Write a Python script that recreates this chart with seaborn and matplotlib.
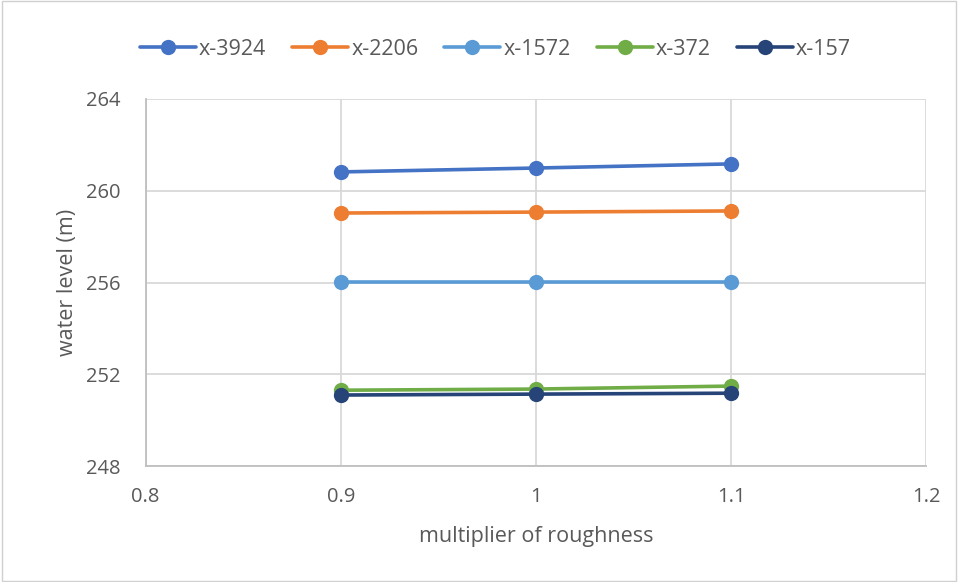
import numpy as np
import pandas as pd
import matplotlib
matplotlib.use("Agg")
import matplotlib.pyplot as plt
import seaborn as sns
from matplotlib.ticker import MultipleLocator

multipliers = [0.9, 1.0, 1.1]
series_names = ["x-3924", "x-2206", "x-1572", "x-372", "x-157"]
x3924 = [260.82, 260.99, 261.17]
x2206 = [259.03, 259.07, 259.12]
x1572 = [256.02, 256.02, 256.02]
x372 = [251.31, 251.36, 251.49]
x157 = [251.10, 251.14, 251.18]
colors = ["#4472C4", "#ED7D31", "#5B9BD5", "#70AD47", "#264478"]

values = [x3924, x2206, x1572, x372, x157]
df = pd.DataFrame({
    "multiplier": multipliers * len(series_names),
    "level": [v for s in values for v in s],
    "series": [n for n in series_names for _ in multipliers],
})

sns.set_style("white")
plt.rcParams["font.family"] = ["Open Sans", "DejaVu Sans"]

fig = plt.figure(figsize=(9.58, 5.82), dpi=100)
ax = fig.add_axes([0.152, 0.199, 0.815, 0.631])

sns.lineplot(data=df, x="multiplier", y="level", hue="series",
             hue_order=series_names, palette=colors, marker="o",
             markersize=11, markeredgewidth=0, linewidth=2.6, ax=ax,
             legend=True, zorder=3)

ax.set_xlim(0.8, 1.2)
ax.set_ylim(248, 264)
ax.xaxis.set_major_locator(MultipleLocator(0.1))
ax.xaxis.set_minor_locator(MultipleLocator(0.05))
ax.yaxis.set_major_locator(MultipleLocator(4))
ax.yaxis.set_minor_locator(MultipleLocator(1))
ax.set_xticks([0.8, 0.9, 1.0, 1.1, 1.2])
ax.set_xticklabels(["0.8", "0.9", "1", "1.1", "1.2"])

grid_c = "#d9d9d9"
axis_c = "#bfbfbf"
ax.grid(True, which="major", color=grid_c, linewidth=1.3, zorder=0)
ax.set_axisbelow(True)
for side in ["top", "right"]:
    ax.spines[side].set_visible(False)
for side in ["left", "bottom"]:
    ax.spines[side].set_color(axis_c)
    ax.spines[side].set_linewidth(1.3)

ax.tick_params(axis="both", which="both", color=axis_c, width=1.3,
               labelcolor="#595959", labelsize=14.5)
ax.tick_params(axis="both", which="major", length=6, direction="out")
ax.tick_params(axis="both", which="minor", length=5, direction="out")
ax.tick_params(axis="x", pad=9)
ax.tick_params(axis="y", pad=12)

ax.set_xlabel("multiplier of roughness", fontsize=15.5, color="#595959", labelpad=14)
ax.set_ylabel("water level (m)", fontsize=15.5, color="#595959", labelpad=6)

handles, labels = ax.get_legend_handles_labels()
ax.legend(handles, labels, loc="center", bbox_to_anchor=(0.448, 1.135),
          ncol=5, frameon=False, fontsize=15.5, labelcolor="#595959",
          handlelength=2.6, handletextpad=0.15, columnspacing=1.2)

fig.patches.append(plt.Rectangle((0.002, 0.002), 0.996, 0.996,
                                 transform=fig.transFigure, fill=False,
                                 edgecolor="#d0d0d0", linewidth=1.0))

fig.savefig("out.png", dpi=100)
